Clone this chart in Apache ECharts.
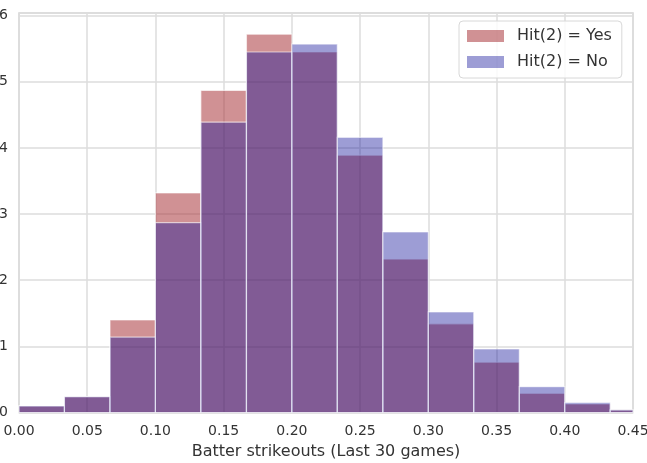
<!DOCTYPE html>
<html>
<head>
<meta charset="utf-8">
<script src="https://cdn.jsdelivr.net/npm/echarts@6/dist/echarts.min.js"></script>
<style>
html,body{margin:0;padding:0;background:#fff;}
#chart{width:647px;height:463px;}
</style>
</head>
<body>
<div id="chart"></div>
<script>
// Bin edges (width 1/30)
var binEdges = [0, 0.0333, 0.0667, 0.1, 0.1333, 0.1667, 0.2, 0.2333, 0.2667, 0.3, 0.3333, 0.3667, 0.4, 0.4333, 0.4667];
// Density values per bin
var yesValues = [0.10, 0.24, 1.40, 3.32, 4.87, 5.72, 5.45, 3.89, 2.32, 1.34, 0.76, 0.29, 0.13, 0.04];
var noValues  = [0.10, 0.24, 1.14, 2.87, 4.39, 5.45, 5.57, 4.16, 2.73, 1.52, 0.96, 0.39, 0.15, 0.04];
var seriesNames = ['Hit(2) = Yes', 'Hit(2) = No'];
var xTicks = [0, 0.05, 0.10, 0.15, 0.20, 0.25, 0.30, 0.35, 0.40, 0.45];
var yTicks = [0, 1, 2, 3, 4, 5, 6];
var xAxisTitle = 'Batter strikeouts (Last 30 games)';

function toData(vals) {
  return vals.map(function (v, i) { return [binEdges[i], binEdges[i + 1], v]; });
}

function renderBar(params, api) {
  var p0 = api.coord([api.value(0), 0]);
  var p1 = api.coord([api.value(1), api.value(2)]);
  var rect = { x: p0[0], y: p1[1], width: p1[0] - p0[0], height: p0[1] - p1[1] };
  var cs = params.coordSys;
  var clipped = echarts.graphic.clipRectByRect(rect, { x: cs.x, y: cs.y, width: cs.width, height: cs.height });
  if (!clipped) return;
  return {
    type: 'rect',
    shape: clipped,
    style: { fill: api.visual('color'), stroke: 'rgba(255,255,255,0.6)', lineWidth: 1.2 }
  };
}

var textColor = '#333333';
var fontFam = 'DejaVu Sans';
var chart = echarts.init(document.getElementById('chart'), null, { renderer: 'canvas' });
chart.setOption({
  animation: false,
  backgroundColor: '#ffffff',
  grid: {
    left: 19, right: 14, top: 13, bottom: 50.5,
    containLabel: false, outerBoundsMode: 'none',
    show: true, borderColor: '#d2d2d2', borderWidth: 1.5, backgroundColor: 'transparent'
  },
  legend: {
    left: 459, top: 21,
    orient: 'vertical',
    data: seriesNames,
    icon: 'rect',
    itemWidth: 37, itemHeight: 12, itemGap: 10,
    padding: [7, 10, 8, 8],
    backgroundColor: 'rgba(255,255,255,0.85)',
    borderColor: '#d8d8d8', borderWidth: 1, borderRadius: 4,
    textStyle: { fontFamily: fontFam, fontSize: 16, color: textColor, padding: [0, 0, 0, 8] }
  },
  xAxis: {
    type: 'value', min: xTicks[0], max: xTicks[xTicks.length - 1], interval: 0.05,
    name: xAxisTitle, nameLocation: 'middle', nameGap: 31,
    nameTextStyle: { fontFamily: fontFam, fontSize: 16, color: textColor },
    axisLine: { show: false }, axisTick: { show: false },
    axisLabel: { fontFamily: fontFam, fontSize: 14, color: textColor, margin: 12,
      formatter: function (v) { return v.toFixed(2); } },
    splitLine: { show: true, lineStyle: { color: '#dcdcdc', width: 1.5 } }
  },
  yAxis: {
    type: 'value', min: yTicks[0], max: 6.04, interval: 1,
    axisLine: { show: false }, axisTick: { show: false },
    axisLabel: { fontFamily: fontFam, fontSize: 14, color: textColor, margin: 11, showMaxLabel: false,
      formatter: function (v) { return Math.abs(v - Math.round(v)) < 1e-6 ? String(Math.round(v)) : ''; } },
    splitLine: { show: true, lineStyle: { color: '#dcdcdc', width: 1.5 } }
  },
  series: [
    { name: seriesNames[0], type: 'custom', renderItem: renderBar, data: toData(yesValues),
      encode: { x: [0, 1], y: 2 }, itemStyle: { color: 'rgba(165,45,50,0.52)' } },
    { name: seriesNames[1], type: 'custom', renderItem: renderBar, data: toData(noValues),
      encode: { x: [0, 1], y: 2 }, itemStyle: { color: 'rgba(10,10,150,0.4)' } }
  ]
});
</script>
</body>
</html>
